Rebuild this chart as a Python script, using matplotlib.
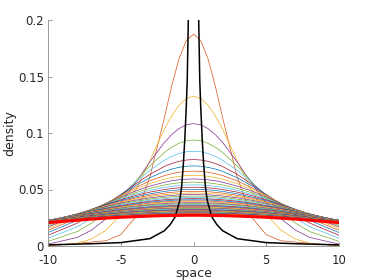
import numpy as np
import matplotlib
matplotlib.use("Agg")
import matplotlib.pyplot as plt

# half-profile sample positions (curves are symmetric about 0)
x_half = [0, 0.5, 1, 1.5, 2, 3, 4, 5, 6, 7, 8, 10]

# family of spreading densities, values in units of 1e-4, one row per curve
family_density_e4 = [
    [1875, 1817, 1655, 1415, 1137, 609, 254, 100, 47, 35, 24, 0],
    [1326, 1305, 1246, 1152, 1033, 756, 488, 278, 140, 62, 24, 3],
    [1083, 1072, 1039, 986, 917, 744, 556, 382, 242, 141, 75, 17],
    [938, 931, 909, 874, 828, 708, 569, 429, 305, 203, 127, 41],
    [839, 834, 818, 793, 759, 670, 562, 449, 341, 246, 169, 69],
    [765, 761, 749, 730, 704, 634, 548, 454, 361, 276, 202, 95],
    [709, 706, 696, 681, 660, 604, 533, 454, 373, 296, 226, 119],
    [663, 660, 653, 640, 623, 576, 516, 449, 378, 308, 244, 139],
    [625, 623, 616, 606, 591, 552, 500, 442, 379, 316, 257, 156],
    [593, 591, 586, 577, 564, 530, 486, 434, 378, 321, 266, 170],
    [565, 563, 559, 551, 540, 510, 471, 425, 375, 324, 273, 181],
    [541, 540, 535, 528, 519, 493, 458, 417, 372, 325, 278, 191],
    [520, 519, 515, 509, 500, 477, 446, 409, 368, 325, 281, 199],
    [501, 500, 497, 491, 483, 462, 434, 401, 363, 323, 283, 205],
    [484, 483, 480, 475, 468, 449, 424, 393, 359, 322, 284, 210],
    [469, 468, 465, 461, 455, 437, 414, 386, 354, 320, 284, 215],
    [455, 454, 452, 448, 442, 426, 405, 379, 349, 317, 284, 218],
    [442, 441, 439, 435, 430, 415, 396, 372, 344, 315, 283, 221],
    [430, 429, 427, 424, 419, 405, 387, 365, 339, 312, 282, 223],
    [419, 418, 416, 413, 409, 396, 379, 358, 335, 308, 281, 224],
    [409, 408, 407, 404, 399, 388, 372, 352, 330, 306, 279, 226],
    [400, 399, 398, 395, 391, 380, 365, 347, 326, 303, 278, 227],
    [391, 390, 389, 386, 383, 372, 358, 341, 322, 300, 276, 227],
    [383, 382, 381, 379, 375, 365, 352, 336, 318, 297, 274, 228],
    [375, 375, 373, 371, 368, 359, 346, 331, 313, 294, 272, 227],
    [368, 368, 366, 364, 361, 352, 341, 326, 310, 291, 271, 228],
    [361, 361, 359, 357, 354, 346, 335, 322, 306, 288, 268, 227],
    [354, 354, 352, 350, 348, 340, 330, 317, 301, 284, 266, 227],
    [348, 348, 347, 345, 342, 335, 325, 312, 298, 282, 264, 226],
    [342, 342, 341, 339, 336, 329, 320, 308, 294, 279, 262, 225],
    [337, 337, 336, 334, 332, 325, 316, 305, 291, 277, 260, 225],
    [331, 331, 330, 328, 326, 320, 311, 300, 288, 273, 258, 224],
    [326, 326, 325, 323, 321, 315, 307, 297, 284, 271, 256, 223],
    [322, 322, 321, 319, 317, 312, 304, 294, 282, 269, 254, 223],
    [317, 317, 316, 314, 313, 307, 299, 290, 279, 266, 252, 222],
    [313, 313, 312, 311, 309, 303, 296, 287, 276, 264, 251, 221],
    [308, 308, 307, 306, 304, 299, 292, 283, 273, 261, 248, 220],
    [304, 304, 303, 302, 300, 295, 288, 280, 270, 259, 246, 219],
    [300, 300, 299, 298, 296, 291, 285, 277, 267, 256, 244, 218],
    [296, 296, 295, 294, 292, 288, 282, 274, 265, 254, 242, 217],
    [293, 293, 292, 291, 289, 285, 279, 271, 263, 252, 241, 216],
    [289, 289, 288, 287, 286, 281, 276, 268, 260, 250, 239, 215],
    [286, 286, 285, 284, 283, 279, 273, 266, 258, 248, 237, 214],
    [283, 283, 282, 281, 280, 276, 270, 264, 255, 246, 236, 213],
]

# limiting (thick red) curve, units of 1e-4
red_density_e4 = [272, 272, 271, 270, 269, 265, 260, 254, 247, 238, 228, 207]

# sharply peaked black curve (half profile)
x_black_half = [0, 0.3, 0.35, 0.43, 0.5, 0.6, 0.7, 0.82, 0.95, 1.25, 1.6, 2.0, 3.0, 5.0, 7.0, 10.0]
black_density = [0.4, 0.26, 0.205, 0.147, 0.122, 0.094, 0.072, 0.052, 0.040, 0.026,
                 0.019, 0.0135, 0.0065, 0.003, 0.002, 0.001]

x_ticks = [-10, -5, 0, 5, 10]
y_ticks = [0, 0.05, 0.1, 0.15, 0.2]
y_tick_labels = ["0", "0.05", "0.1", "0.15", "0.2"]

matlab_colors = [
    (0.000, 0.447, 0.741), (0.850, 0.325, 0.098), (0.929, 0.694, 0.125),
    (0.494, 0.184, 0.556), (0.466, 0.674, 0.188), (0.301, 0.745, 0.933),
    (0.635, 0.078, 0.184),
]


def mirror(xh, vh):
    xh = np.asarray(xh, float)
    vh = np.asarray(vh, float)
    return np.concatenate([-xh[::-1], xh[1:]]), np.concatenate([vh[::-1], vh[1:]])


plt.rcParams['font.family'] = ['DejaVu Sans']
fig = plt.figure(figsize=(3.74, 2.80), dpi=100)
ax = fig.add_axes([48 / 374, 1 - 246 / 280, (339 - 48) / 374, (246 - 20) / 280])

for i, row in enumerate(family_density_e4):
    xs, ys = mirror(x_half, np.asarray(row) * 1e-4)
    ax.plot(xs, ys, color=matlab_colors[(i + 1) % 7], lw=0.5)

xs, ys = mirror(x_black_half, black_density)
ax.plot(xs, ys, color='k', lw=1.1)

xs, ys = mirror(x_half, np.asarray(red_density_e4) * 1e-4)
ax.plot(xs, ys, color='r', lw=2.2)

ax.set_xlim(-10, 10)
ax.set_ylim(0, 0.2)
ax.set_xticks(x_ticks)
ax.set_xticklabels([str(t) for t in x_ticks])
ax.set_yticks(y_ticks)
ax.set_yticklabels(y_tick_labels)

axis_col = (0.15, 0.15, 0.15)
for s in ['top', 'right']:
    ax.spines[s].set_visible(False)
for s in ['left', 'bottom']:
    ax.spines[s].set_color((0.55, 0.55, 0.55))
    ax.spines[s].set_linewidth(0.6)
ax.tick_params(direction='in', length=3, width=0.6, color=(0.55, 0.55, 0.55),
               labelsize=8.5, labelcolor=axis_col, pad=3)
ax.tick_params(axis='x', pad=5.5)
ax.set_xlabel('space', fontsize=9, color=axis_col, labelpad=0)
ax.set_ylabel('density', fontsize=9, color=axis_col)
ax.yaxis.set_label_coords(-0.11, 0.5)

fig.savefig('out.png', dpi=100)
